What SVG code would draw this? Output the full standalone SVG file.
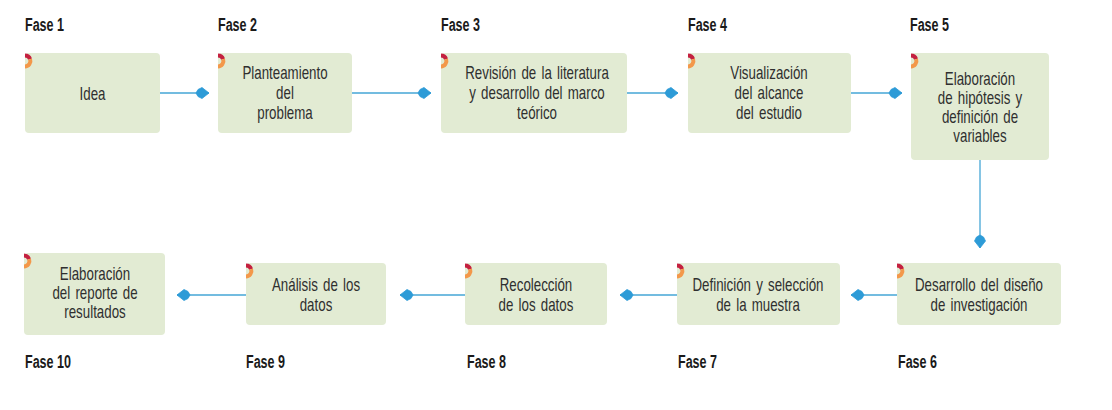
<svg xmlns="http://www.w3.org/2000/svg" width="1112" height="410" viewBox="0 0 1112 410">
  <style>
    .box { fill: #E2EBD3; }
    .lbl { font-family: "Liberation Sans", Arial, sans-serif; font-size: 18px; fill: #2f2f2f; text-anchor: middle; word-spacing: 2px; }
    .fase { font-family: "Liberation Sans", Arial, sans-serif; font-size: 19px; font-weight: bold; fill: #1a1a1a; }
    .conn { stroke: #45A6D6; stroke-width: 1.3; fill: none; marker-end: url(#ah); }
  </style>
  <defs>
    <marker id="ah" viewBox="-16 -8 18 16" refX="0" refY="0" markerWidth="18" markerHeight="16" markerUnits="userSpaceOnUse" orient="auto">
      <path d="M0,0 L-7,-5.5 L-11,-3.5 L-13,0 L-11,3.5 L-7,5.5 Z" fill="#2D9BD7" stroke="#2D9BD7" stroke-width="0.8" stroke-linejoin="round"/>
    </marker>
    <g id="deco">
      <path d="M0,2.5 A5.5,5.5 0 0 1 5.1,6.2" stroke="#C4203F" stroke-width="4" fill="none"/>
      <path d="M5.1,6.2 A5.5,5.5 0 0 1 0,13.5" stroke="#F3984A" stroke-width="4" fill="none"/>
    </g>
  </defs>

  <g id="connectors">
    <line class="conn" x1="160" y1="93" x2="209" y2="93"/>
    <line class="conn" x1="352" y1="93" x2="431" y2="93"/>
    <line class="conn" x1="627" y1="93" x2="678" y2="93"/>
    <line class="conn" x1="851" y1="93" x2="902" y2="93"/>
    <line class="conn" x1="980" y1="160" x2="980" y2="248"/>
    <line class="conn" x1="897" y1="295" x2="851" y2="295"/>
    <line class="conn" x1="677" y1="295" x2="620" y2="295"/>
    <line class="conn" x1="465" y1="295" x2="400" y2="295"/>
    <line class="conn" x1="246" y1="295" x2="177" y2="295"/>
  </g>

  <g id="fase-labels">
    <text class="fase" transform="translate(25,0) scale(0.66,1)" x="0" y="31">Fase 1</text>
    <text class="fase" transform="translate(218,0) scale(0.66,1)" x="0" y="31">Fase 2</text>
    <text class="fase" transform="translate(441,0) scale(0.66,1)" x="0" y="31">Fase 3</text>
    <text class="fase" transform="translate(688,0) scale(0.66,1)" x="0" y="31">Fase 4</text>
    <text class="fase" transform="translate(910,0) scale(0.66,1)" x="0" y="31">Fase 5</text>
    <text class="fase" transform="translate(898,0) scale(0.66,1)" x="0" y="368">Fase 6</text>
    <text class="fase" transform="translate(678,0) scale(0.66,1)" x="0" y="368">Fase 7</text>
    <text class="fase" transform="translate(467,0) scale(0.66,1)" x="0" y="368">Fase 8</text>
    <text class="fase" transform="translate(246,0) scale(0.66,1)" x="0" y="368">Fase 9</text>
    <text class="fase" transform="translate(25,0) scale(0.66,1)" x="0" y="368">Fase 10</text>
  </g>

  <g id="node1">
    <rect class="box" x="25" y="53" width="135" height="80" rx="4"/>
    <use href="#deco" x="25" y="53"/>
    <text class="lbl" transform="translate(92.5,0) scale(0.74,1)" x="0" y="100">Idea</text>
  </g>
  <g id="node2">
    <rect class="box" x="218" y="53" width="134" height="80" rx="4"/>
    <use href="#deco" x="218" y="53"/>
    <text class="lbl" transform="translate(285,0) scale(0.74,1)">
      <tspan x="0" y="79">Planteamiento</tspan><tspan x="0" y="99">del</tspan><tspan x="0" y="119">problema</tspan>
    </text>
  </g>
  <g id="node3">
    <rect class="box" x="441" y="53" width="186" height="80" rx="4"/>
    <use href="#deco" x="441" y="53"/>
    <text class="lbl" transform="translate(537,0) scale(0.74,1)">
      <tspan x="0" y="79">Revisión de la literatura</tspan><tspan x="0" y="99">y desarrollo del marco</tspan><tspan x="0" y="119">teórico</tspan>
    </text>
  </g>
  <g id="node4">
    <rect class="box" x="688" y="53" width="163" height="80" rx="4"/>
    <use href="#deco" x="688" y="53"/>
    <text class="lbl" transform="translate(769,0) scale(0.74,1)">
      <tspan x="0" y="79">Visualización</tspan><tspan x="0" y="99">del alcance</tspan><tspan x="0" y="119">del estudio</tspan>
    </text>
  </g>
  <g id="node5">
    <rect class="box" x="911" y="53" width="138" height="107" rx="4"/>
    <use href="#deco" x="911" y="53"/>
    <text class="lbl" transform="translate(980,0) scale(0.74,1)">
      <tspan x="0" y="85">Elaboración</tspan><tspan x="0" y="104">de hipótesis y</tspan><tspan x="0" y="123">definición de</tspan><tspan x="0" y="142">variables</tspan>
    </text>
  </g>
  <g id="node6">
    <rect class="box" x="897" y="263" width="164" height="62" rx="4"/>
    <use href="#deco" x="897" y="263"/>
    <text class="lbl" transform="translate(979,0) scale(0.74,1)">
      <tspan x="0" y="291">Desarrollo del diseño</tspan><tspan x="0" y="311">de investigación</tspan>
    </text>
  </g>
  <g id="node7">
    <rect class="box" x="677" y="263" width="163" height="62" rx="4"/>
    <use href="#deco" x="677" y="263"/>
    <text class="lbl" transform="translate(758,0) scale(0.74,1)">
      <tspan x="0" y="291">Definición y selección</tspan><tspan x="0" y="311">de la muestra</tspan>
    </text>
  </g>
  <g id="node8">
    <rect class="box" x="465" y="263" width="142" height="62" rx="4"/>
    <use href="#deco" x="465" y="263"/>
    <text class="lbl" transform="translate(536,0) scale(0.74,1)">
      <tspan x="0" y="291">Recolección</tspan><tspan x="0" y="311">de los datos</tspan>
    </text>
  </g>
  <g id="node9">
    <rect class="box" x="246" y="263" width="140" height="62" rx="4"/>
    <use href="#deco" x="246" y="263"/>
    <text class="lbl" transform="translate(316,0) scale(0.74,1)">
      <tspan x="0" y="291">Análisis de los</tspan><tspan x="0" y="311">datos</tspan>
    </text>
  </g>
  <g id="node10">
    <rect class="box" x="24" y="253" width="141" height="82" rx="4"/>
    <use href="#deco" x="24" y="253"/>
    <text class="lbl" transform="translate(95,0) scale(0.74,1)">
      <tspan x="0" y="280">Elaboración</tspan><tspan x="0" y="299">del reporte de</tspan><tspan x="0" y="318">resultados</tspan>
    </text>
  </g>
</svg>
